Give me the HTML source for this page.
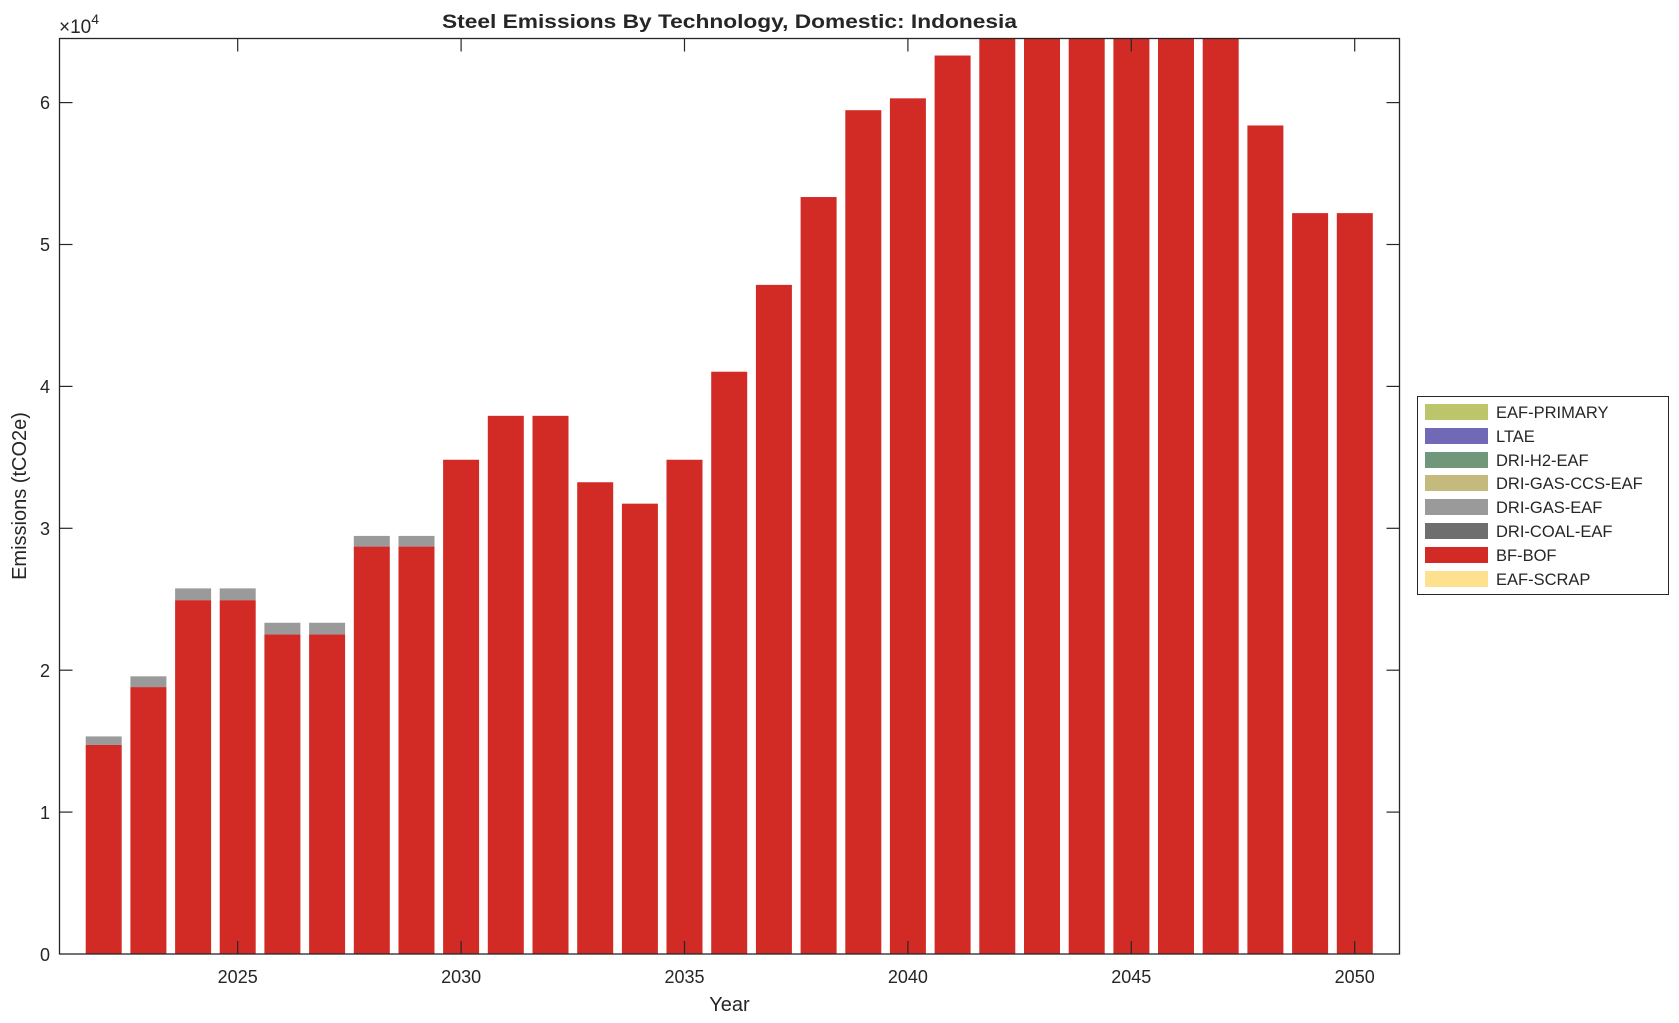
<!DOCTYPE html>
<html><head><meta charset="utf-8"><style>body{margin:0;background:#fff}svg{display:block}text{font-family:"Liberation Sans",Arial,sans-serif;fill:#262626}</style></head>
<body>
<svg width="1679" height="1023" viewBox="0 0 1679 1023" xmlns="http://www.w3.org/2000/svg">
<defs><clipPath id="c"><rect x="59.5" y="38.5" width="1340" height="915.5"/></clipPath></defs>
<rect width="1679" height="1023" fill="#fff"/>
<g clip-path="url(#c)">
<g transform="translate(0,954) scale(1,1.005) translate(0,-954)">
<g fill="#D22B26">
<rect x="85.7" y="746.0" width="36" height="208"/>
<rect x="130.4" y="688.4" width="36" height="265.6"/>
<rect x="175.1" y="601.9" width="36" height="352.1"/>
<rect x="219.7" y="601.9" width="36" height="352.1"/>
<rect x="264.4" y="636.0" width="36" height="318"/>
<rect x="309.1" y="636.0" width="36" height="318"/>
<rect x="353.8" y="548.6" width="36" height="405.4"/>
<rect x="398.5" y="548.6" width="36" height="405.4"/>
<rect x="443.1" y="462.2" width="36" height="491.8"/>
<rect x="487.8" y="418.5" width="36" height="535.5"/>
<rect x="532.5" y="418.5" width="36" height="535.5"/>
<rect x="577.2" y="484.6" width="36" height="469.4"/>
<rect x="621.9" y="505.9" width="36" height="448.1"/>
<rect x="666.5" y="462.2" width="36" height="491.8"/>
<rect x="711.2" y="374.6" width="36" height="579.4"/>
<rect x="755.9" y="288.2" width="36" height="665.8"/>
<rect x="800.6" y="200.8" width="36" height="753.2"/>
<rect x="845.3" y="114.4" width="36" height="839.6"/>
<rect x="889.9" y="102.6" width="36" height="851.4"/>
<rect x="934.6" y="60.0" width="36" height="894"/>
<rect x="979.3" y="20" width="36" height="934"/>
<rect x="1024.0" y="20" width="36" height="934"/>
<rect x="1068.7" y="20" width="36" height="934"/>
<rect x="1113.4" y="20" width="36" height="934"/>
<rect x="1158.0" y="20" width="36" height="934"/>
<rect x="1202.7" y="20" width="36" height="934"/>
<rect x="1247.4" y="129.6" width="36" height="824.4"/>
<rect x="1292.1" y="216.8" width="36" height="737.2"/>
<rect x="1336.8" y="216.8" width="36" height="737.2"/>
</g>
<g fill="#9A9A9A">
<rect x="85.7" y="737.5" width="36" height="8.5"/>
<rect x="130.4" y="677.7" width="36" height="10.7"/>
<rect x="175.1" y="590.2" width="36" height="11.7"/>
<rect x="219.7" y="590.2" width="36" height="11.7"/>
<rect x="264.4" y="624.4" width="36" height="11.6"/>
<rect x="309.1" y="624.4" width="36" height="11.6"/>
<rect x="353.8" y="538.0" width="36" height="10.6"/>
<rect x="398.5" y="538.0" width="36" height="10.6"/>
</g>
</g>
</g>
<rect x="59.5" y="38.5" width="1340" height="915.5" fill="none" stroke="#262626" stroke-width="1.3"/>
<g stroke="#262626" stroke-width="1.2">
<line x1="237.7" y1="954" x2="237.7" y2="941"/><line x1="237.7" y1="38.5" x2="237.7" y2="51.5"/>
<line x1="461.1" y1="954" x2="461.1" y2="941"/><line x1="461.1" y1="38.5" x2="461.1" y2="51.5"/>
<line x1="684.5" y1="954" x2="684.5" y2="941"/><line x1="684.5" y1="38.5" x2="684.5" y2="51.5"/>
<line x1="907.9" y1="954" x2="907.9" y2="941"/><line x1="907.9" y1="38.5" x2="907.9" y2="51.5"/>
<line x1="1131.3" y1="954" x2="1131.3" y2="941"/><line x1="1131.3" y1="38.5" x2="1131.3" y2="51.5"/>
<line x1="1354.7" y1="954" x2="1354.7" y2="941"/><line x1="1354.7" y1="38.5" x2="1354.7" y2="51.5"/>
<line x1="59.5" y1="812.1" x2="72.5" y2="812.1"/><line x1="1399.5" y1="812.1" x2="1386.5" y2="812.1"/>
<line x1="59.5" y1="670.2" x2="72.5" y2="670.2"/><line x1="1399.5" y1="670.2" x2="1386.5" y2="670.2"/>
<line x1="59.5" y1="528.3" x2="72.5" y2="528.3"/><line x1="1399.5" y1="528.3" x2="1386.5" y2="528.3"/>
<line x1="59.5" y1="386.4" x2="72.5" y2="386.4"/><line x1="1399.5" y1="386.4" x2="1386.5" y2="386.4"/>
<line x1="59.5" y1="244.5" x2="72.5" y2="244.5"/><line x1="1399.5" y1="244.5" x2="1386.5" y2="244.5"/>
<line x1="59.5" y1="102.6" x2="72.5" y2="102.6"/><line x1="1399.5" y1="102.6" x2="1386.5" y2="102.6"/>
</g>
<g font-size="18" text-anchor="middle">
<text x="237.7" y="983">2025</text><text x="461.1" y="983">2030</text><text x="684.5" y="983">2035</text>
<text x="907.9" y="983">2040</text><text x="1131.3" y="983">2045</text><text x="1354.7" y="983">2050</text>
</g>
<g font-size="18" text-anchor="end">
<text x="50" y="961">0</text><text x="50" y="819">1</text><text x="50" y="677">2</text><text x="50" y="535">3</text>
<text x="50" y="393">4</text><text x="50" y="251">5</text><text x="50" y="109">6</text>
</g>
<text x="59" y="33" font-size="19">×10<tspan font-size="14" dy="-9">4</tspan></text>
<text x="729.5" y="28" font-size="19" font-weight="bold" text-anchor="middle" textLength="575" lengthAdjust="spacingAndGlyphs" fill="#000">Steel Emissions By Technology, Domestic: Indonesia</text>
<text x="729.5" y="1011" font-size="20" text-anchor="middle">Year</text>
<text transform="translate(26,496) rotate(-90)" font-size="20" text-anchor="middle">Emissions (tCO2e)</text>
<rect x="1417.5" y="396.5" width="251" height="198" fill="#fff" stroke="#262626" stroke-width="1"/>
<g font-size="16.5">
<rect x="1425" y="404" width="63" height="16" fill="#BDC56A"/><text x="1496" y="418" fill="#000">EAF-PRIMARY</text>
<rect x="1425" y="428" width="63" height="16" fill="#7169B6"/><text x="1496" y="442" fill="#000">LTAE</text>
<rect x="1425" y="452" width="63" height="16" fill="#71977A"/><text x="1496" y="466" fill="#000">DRI-H2-EAF</text>
<rect x="1425" y="475" width="63" height="16" fill="#C4BA7E"/><text x="1496" y="489" fill="#000">DRI-GAS-CCS-EAF</text>
<rect x="1425" y="499" width="63" height="16" fill="#9A9A9A"/><text x="1496" y="513" fill="#000">DRI-GAS-EAF</text>
<rect x="1425" y="523" width="63" height="16" fill="#6E6E6E"/><text x="1496" y="537" fill="#000">DRI-COAL-EAF</text>
<rect x="1425" y="547" width="63" height="16" fill="#D22B26"/><text x="1496" y="561" fill="#000">BF-BOF</text>
<rect x="1425" y="571" width="63" height="16" fill="#FEE18F"/><text x="1496" y="585" fill="#000">EAF-SCRAP</text>
</g>
</svg>
</body></html>
